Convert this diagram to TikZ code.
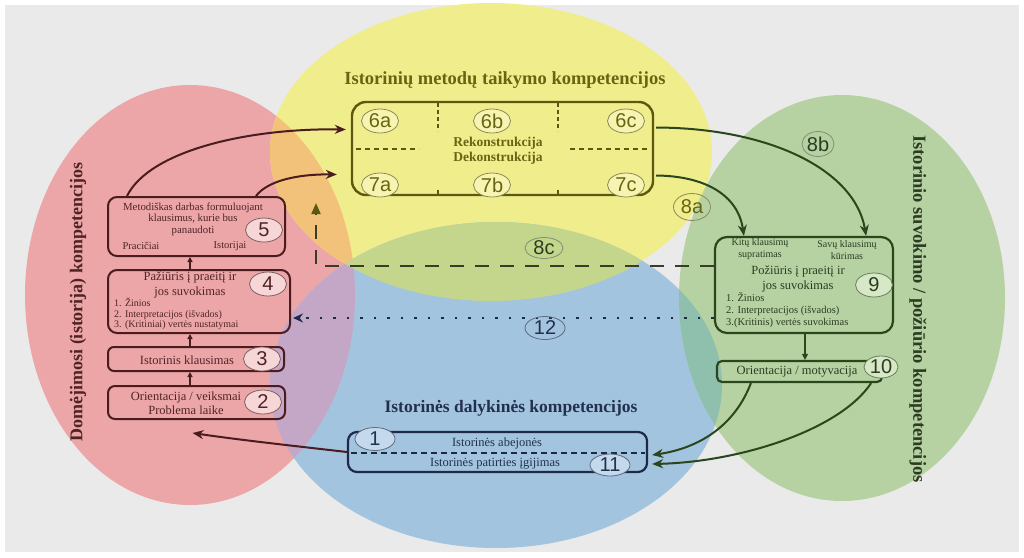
\documentclass[tikz,border=0pt]{standalone}
\usepackage{fontspec}
\setmainfont{Liberation Serif}
\newfontfamily\numfont{Liberation Sans}
\usetikzlibrary{arrows.meta,shapes.geometric}
\definecolor{bgG}{RGB}{234,234,234}
\definecolor{elR}{RGB}{236,166,168}
\definecolor{elY}{RGB}{240,238,140}
\definecolor{elB}{RGB}{163,196,222}
\definecolor{elG}{RGB}{182,210,162}
\definecolor{ovRY}{RGB}{242,194,122}
\definecolor{ovRB}{RGB}{196,166,198}
\definecolor{ovYB}{RGB}{196,214,140}
\definecolor{ovYG}{RGB}{200,222,138}
\definecolor{ovBG}{RGB}{143,192,174}
\definecolor{maroon}{RGB}{74,28,30}
\definecolor{maroonT}{RGB}{80,36,38}
\definecolor{pinkC}{RGB}{246,214,214}
\definecolor{oliveB}{RGB}{92,88,16}
\definecolor{oliveT}{RGB}{104,100,20}
\definecolor{yelC}{RGB}{246,244,176}
\definecolor{greenB}{RGB}{42,70,28}
\definecolor{greenT}{RGB}{44,60,34}
\definecolor{greenC}{RGB}{214,232,198}
\definecolor{navyB}{RGB}{28,42,70}
\definecolor{navyT}{RGB}{34,48,78}
\definecolor{blueC}{RGB}{196,218,236}
\definecolor{dashC}{RGB}{58,60,40}
\tikzset{
  boxR/.style={draw=maroon, line width=2pt, rounded corners=9pt, inner sep=0pt},
  boxY/.style={draw=oliveB, line width=2.4pt, rounded corners=14pt, inner sep=0pt},
  boxG/.style={draw=greenB, line width=2.2pt, rounded corners=12pt, inner sep=0pt},
  boxB/.style={draw=navyB, line width=2.2pt, rounded corners=9pt, inner sep=0pt},
  num/.style={ellipse, draw, line width=0.8pt, inner sep=0pt, minimum width=37pt, minimum height=24pt, font=\numfont\fontsize{20}{20}\selectfont},
  numR/.style={num, fill=pinkC, draw=maroon!70, text=maroonT},
  numY/.style={num, fill=yelC, draw=oliveB!70, text=oliveT},
  numG/.style={num, fill=greenC, draw=greenB!70, text=greenT},
  numB/.style={num, fill=blueC, draw=navyB!70, text=navyT},
  numYG/.style={num, draw=greenB!60, text=greenT},
  txt/.style={inner sep=0pt, align=center, font=\fontsize{12.5}{15}\selectfont},
  lst/.style={inner sep=0pt, align=left, anchor=west, font=\fontsize{10}{10.5}\selectfont},
  ttl/.style={inner sep=0pt, font=\bfseries\fontsize{18.5}{20}\selectfont},
  conn/.style={line width=2pt, -{Stealth[length=11pt,width=9pt]}},
  small/.style={line width=1.2pt, -{Triangle[length=5pt,width=5pt]}, draw=maroon}
}
\begin{document}
\begin{tikzpicture}[x=1pt,y=-1pt]
\useasboundingbox (0,0) rectangle (1024,557);
\fill[white] (0,0) rectangle (1024,557);
\fill[bgG] (5,5) rectangle (1019,552);
% ellipses
\def\Rell{(190,295) ellipse [x radius=165pt, y radius=210pt]}
\def\Yell{(491,152) ellipse [x radius=221pt, y radius=149pt]}
\def\Bell{(496,385) ellipse [x radius=226pt, y radius=163pt]}
\def\Gell{(842,298) ellipse [x radius=163pt, y radius=203pt]}
\fill[elR] \Rell;
\fill[elY] \Yell;
\fill[elB] \Bell;
\fill[elG] \Gell;
\begin{scope}\clip \Rell; \fill[ovRY] \Yell; \end{scope}
\begin{scope}\clip \Rell; \fill[ovRB] \Bell; \end{scope}
\begin{scope}\clip \Yell; \fill[ovYB] \Bell; \end{scope}
\begin{scope}\clip \Yell; \fill[ovYG] \Gell; \end{scope}
\begin{scope}\clip \Bell; \fill[ovBG] \Gell; \end{scope}

% titles
\node[ttl, text=oliveT] (tY) at (505,80) {Istorinių metodų taikymo kompetencijos};
\node[ttl, text=navyT, font=\bfseries\fontsize{17.5}{20}\selectfont] (tB) at (511,408) {Istorinės dalykinės kompetencijos};
\node[ttl, text=maroonT, rotate=90, font=\bfseries\fontsize{18}{20}\selectfont] (tR) at (78,302) {Domėjimosi (istorija) kompetencijos};
\node[ttl, text=greenT, rotate=-90] (tG) at (918,309) {Istorinio suvokimo / požiūrio kompetencijos};

% left column
\node[boxR, minimum width=177pt, minimum height=59pt] (b5) at (196.5,226.5) {};
\node[boxR, minimum width=182pt, minimum height=63pt] (b4) at (199,301.5) {};
\node[boxR, minimum width=176pt, minimum height=24pt, rounded corners=6pt] (b3) at (196,359) {};
\node[boxR, minimum width=177pt, minimum height=33pt, rounded corners=7pt] (b2) at (196.5,402.5) {};
\node[txt, text=maroonT, font=\fontsize{10.8}{11.5}\selectfont] (t5) at (193,219) {Metodiškas darbas formuluojant\\klausimus, kurie bus\\panaudoti};
\node[txt, text=maroonT, font=\fontsize{10.5}{11}\selectfont] (t5a) at (141,246) {Pracičiai};
\node[txt, text=maroonT, font=\fontsize{10.5}{11}\selectfont] (t5b) at (230,246) {Istorijai};
\node[numR] (n5) at (264,230) {5};
\node[txt, text=maroonT] (t4) at (190,285) {Pažiūris į praeitį ir\\jos suvokimas};
\node[lst, text=maroonT] (t4l) at (114,314) {1. Žinios\\2. Interpretacijos (išvados)\\3. (Kritiniai) vertės nustatymai};
\node[numR] (n4) at (268,284) {4};
\node[txt, text=maroonT] (t3) at (187,360) {Istorinis klausimas};
\node[numR] (n3) at (262,359) {3};
\node[txt, text=maroonT, font=\fontsize{12.5}{13.5}\selectfont] (t2) at (186,403) {Orientacija / veiksmai\\Problema laike};
\node[numR] (n2) at (263,402) {2};
\coordinate (cx) at (190,0);
\draw[small] (b2.north -| cx) -- (b3.south -| cx);
\draw[small] (b3.north -| cx) -- (b4.south -| cx);
\draw[small] (b4.north -| cx) -- (b5.south -| cx);

% top box
\node[boxY, minimum width=301pt, minimum height=93pt] (top) at (502.5,148.5) {};
\draw[oliveB, line width=2pt, dash pattern=on 4pt off 3pt] (438,103) -- (438,131);
\draw[oliveB, line width=2pt, dash pattern=on 4pt off 3pt] (558,103) -- (558,131);
\draw[oliveB, line width=2pt] (438,190) -- (438,194);
\draw[oliveB, line width=2pt] (558,190) -- (558,194);
\draw[oliveB, line width=1.8pt, dash pattern=on 5pt off 4pt] (356,149) -- (419,149);
\draw[oliveB, line width=1.8pt, dash pattern=on 5pt off 4pt] (570,149) -- (650,149);
\node[txt, text=oliveT, font=\bfseries\fontsize{13.5}{15}\selectfont] (rk) at (498,151) {Rekonstrukcija\\Dekonstrukcija};
\node[numY] (n6a) at (380,121) {6a};
\node[numY] (n6b) at (492,121) {6b};
\node[numY] (n6c) at (626,121) {6c};
\node[numY] (n7a) at (380,185) {7a};
\node[numY] (n7b) at (492,185) {7b};
\node[numY] (n7c) at (626,185) {7c};

% right boxes
\node[boxG, minimum width=178pt, minimum height=96pt] (b9) at (804,285) {};
\node[txt, text=greenT, font=\fontsize{10}{12}\selectfont] (t9a) at (760,249) {Kitų klausimų\\supratimas};
\node[txt, text=greenT, font=\fontsize{10}{12}\selectfont] (t9b) at (847,250) {Savų klausimų\\kūrimas};
\node[txt, text=greenT] (t9) at (798,279) {Požiūris į praeitį ir\\jos suvokimas};
\node[lst, text=greenT, font=\fontsize{10.5}{12}\selectfont] (t9l) at (726,310) {1. Žinios\\2. Interpretacijos (išvados)\\3.(Kritinis) vertės suvokimas};
\node[numG] (n9) at (874,285) {9};
\node[boxG, minimum width=165pt, minimum height=21pt, rounded corners=5pt] (b10) at (799.5,371.5) {};
\node[txt, text=greenT] (t10) at (797,372) {Orientacija / motyvacija};
\node[numG, minimum width=34pt, minimum height=22pt] (n10) at (881,367) {10};
\coordinate (cg) at (805,0);
\draw[line width=1.2pt, draw=greenB, -{Triangle[length=6pt,width=6pt]}] (b9.south -| cg) -- (b10.north -| cg);

% bottom box
\node[boxB, minimum width=299pt, minimum height=40pt] (b1) at (497.5,452) {};
\draw[navyB, line width=1.8pt, dash pattern=on 6pt off 4pt] (351,453) -- (645,453);
\node[txt, text=navyT] (t1) at (497,443) {Istorinės abejonės};
\node[txt, text=navyT] (t11) at (495,464) {Istorinės patirties įgijimas};
\node[numB, minimum width=40pt, minimum height=23pt] (n1) at (375,439) {1};
\node[numB, minimum width=40pt, minimum height=22pt] (n11) at (610,465) {11};

% connectors
\draw[conn, draw=maroon] ([xshift=20pt]b5.north west) .. controls (150,150) and (250,128) .. ([xshift=-5pt,yshift=19pt]top.west);
\draw[conn, draw=maroon] ([xshift=-30pt]b5.north east) .. controls (268,180) and (300,174) .. ([xshift=-14pt,yshift=-26pt]top.west);
\draw[conn, draw=greenB] ([xshift=2pt,yshift=21pt]top.east) .. controls (770,128) and (855,170) .. ([xshift=-28pt]b9.north east);
\draw[conn, draw=greenB] ([xshift=2pt,yshift=-27pt]top.east) .. controls (705,176) and (738,195) .. ([xshift=30pt]b9.north west);
\draw[line width=2pt, draw=dashC, dash pattern=on 14pt off 11pt, -{Triangle[length=11pt,width=9pt, color=oliveB]}] ([yshift=19pt]b9.west) -| (316,203);
\draw[line width=2.4pt, draw=navyB, dash pattern=on 2.5pt off 11pt, -{Stealth[length=10pt,width=9pt]}] ([yshift=-33pt]b9.west) -- ([yshift=-16.5pt,xshift=2pt]b4.east);
\draw[conn, draw=greenB] ([xshift=35pt]b10.south west) .. controls (735,425) and (700,448) .. ([xshift=4pt,yshift=-3pt]b1.east);
\draw[conn, draw=greenB] ([xshift=-12pt]b10.south east) .. controls (840,430) and (740,462) .. ([xshift=4pt,yshift=-12pt]b1.east);
\draw[conn, draw=maroon] (b1.west) .. controls (295,446) and (240,440) .. ([xshift=-4pt,yshift=-13pt]b2.south);

% free labels
\node[numYG, minimum width=32pt, minimum height=25pt] (n8b) at (818,144) {8b};
\node[numYG, draw=oliveB!70, text=oliveT, minimum width=37pt, minimum height=27pt] (n8a) at (692,207) {8a};
\node[numYG, minimum width=38pt, minimum height=21pt] (n8c) at (544,248) {8c};
\node[numB, fill=none, minimum width=40pt, minimum height=23pt] (n12) at (545,328) {12};
\end{tikzpicture}
\end{document}
